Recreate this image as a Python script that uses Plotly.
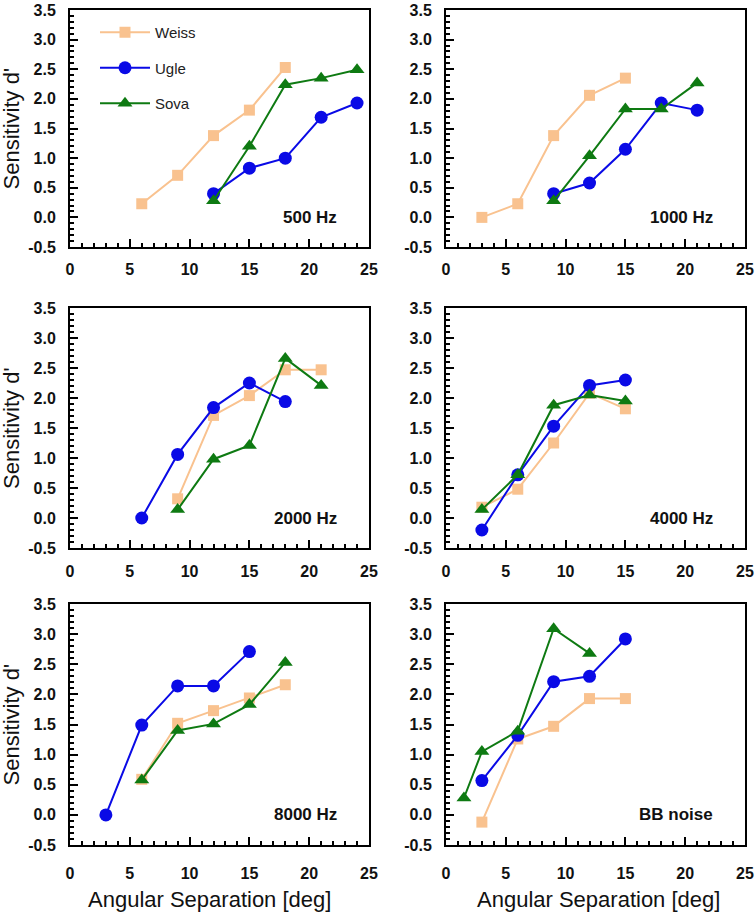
import plotly.graph_objects as go

W, H = 755, 913

# ---------------- data ----------------
panel_labels = ["500 Hz", "1000 Hz", "2000 Hz", "4000 Hz", "8000 Hz", "BB noise"]
series_names = ["Weiss", "Ugle", "Sova"]

weiss_x = [[6, 9, 12, 15, 18], [3, 6, 9, 12, 15], [9, 12, 15, 18, 21],
           [3, 6, 9, 12, 15], [6, 9, 12, 15, 18], [3, 6, 9, 12, 15]]
weiss_y = [[0.23, 0.71, 1.38, 1.81, 2.53], [0.00, 0.23, 1.38, 2.06, 2.35],
           [0.32, 1.71, 2.04, 2.47, 2.47], [0.18, 0.48, 1.25, 2.08, 1.82],
           [0.59, 1.52, 1.73, 1.94, 2.16], [-0.12, 1.26, 1.47, 1.93, 1.93]]

ugle_x = [[12, 15, 18, 21, 24], [9, 12, 15, 18, 21], [6, 9, 12, 15, 18],
          [3, 6, 9, 12, 15], [3, 6, 9, 12, 15], [3, 6, 9, 12, 15]]
ugle_y = [[0.40, 0.83, 1.00, 1.69, 1.93], [0.40, 0.58, 1.15, 1.93, 1.81],
          [0.00, 1.06, 1.84, 2.25, 1.94], [-0.20, 0.72, 1.53, 2.21, 2.30],
          [0.00, 1.49, 2.14, 2.14, 2.71], [0.57, 1.32, 2.21, 2.30, 2.92]]

sova_x = [[12, 15, 18, 21, 24], [9, 12, 15, 18, 21], [9, 12, 15, 18, 21],
          [3, 6, 9, 12, 15], [6, 9, 12, 15, 18], [1.5, 3, 6, 9, 12]]
sova_y = [[0.28, 1.20, 2.24, 2.35, 2.49], [0.28, 1.04, 1.83, 1.83, 2.27],
          [0.14, 0.98, 1.21, 2.66, 2.21], [0.14, 0.72, 1.88, 2.05, 1.95],
          [0.58, 1.40, 1.51, 1.83, 2.53], [0.28, 1.05, 1.39, 3.09, 2.68]]

x_tick_vals = [0, 5, 10, 15, 20, 25]
y_tick_vals = [-0.5, 0.0, 0.5, 1.0, 1.5, 2.0, 2.5, 3.0, 3.5]
y_tick_text = ["-0.5", "0.0", "0.5", "1.0", "1.5", "2.0", "2.5", "3.0", "3.5"]
x_title = "Angular Separation [deg]"
y_title = "Sensitivity d'"

# ---------------- style ----------------
colors = {"Weiss": "#F9C28F", "Ugle": "#0A0AE6", "Sova": "#0E7A12"}
symbols = {"Weiss": "square", "Ugle": "circle", "Sova": "triangle-up"}
msize = {"Weiss": 11, "Ugle": 13, "Sova": 13}
FONT = "Liberation Sans, Arial, sans-serif"

col_px = [(70, 369), (446, 745)]
row_px = [(10, 247), (308, 548), (604, 845)]
xlab_standoff = [7, 8, 13]

fig = go.Figure()
layout = dict(
    width=W, height=H, margin=dict(l=0, r=0, t=0, b=0, autoexpand=False),
    paper_bgcolor="white", plot_bgcolor="white",
    font=dict(family=FONT, color="black"),
    showlegend=True,
    legend=dict(x=95 / W, xanchor="left", y=1 - 16 / H, yanchor="top",
                font=dict(size=15, family=FONT, color="#222"),
                itemwidth=50, tracegroupgap=13, bgcolor="rgba(0,0,0,0)"),
)

annotations = []
all_data = {"Weiss": (weiss_x, weiss_y), "Ugle": (ugle_x, ugle_y), "Sova": (sova_x, sova_y)}

for p in range(6):
    r, c = divmod(p, 2)
    idx = "" if p == 0 else str(p + 1)
    xa, ya = "x" + idx, "y" + idx
    x0, x1 = col_px[c]
    y0, y1 = row_px[r]
    layout["xaxis" + idx] = dict(
        domain=[x0 / W, x1 / W], anchor=ya, range=[0, 25], automargin=False,
        tickmode="array", tickvals=x_tick_vals, ticklabeloverflow="allow",
        ticks="inside", ticklen=8, tickwidth=2, tickcolor="black",
        minor=dict(ticks="inside", ticklen=4, tickwidth=1.5, tickcolor="black", dtick=1, tick0=0),
        showline=True, linewidth=2, linecolor="black", mirror=True,
        showgrid=False, zeroline=False,
        tickfont=dict(size=16, family=FONT, weight="bold", color="#111"),
        ticklabelstandoff=xlab_standoff[r],
    )
    layout["yaxis" + idx] = dict(
        domain=[1 - y1 / H, 1 - y0 / H], anchor=xa, range=[-0.5, 3.5], automargin=False,
        tickmode="array", tickvals=y_tick_vals, ticktext=y_tick_text, ticklabeloverflow="allow",
        ticks="inside", ticklen=8, tickwidth=2, tickcolor="black",
        minor=dict(ticks="inside", ticklen=4, tickwidth=1.5, tickcolor="black", dtick=0.1, tick0=0),
        showline=True, linewidth=2, linecolor="black", mirror=True,
        showgrid=False, zeroline=False,
        tickfont=dict(size=16, family=FONT, weight="bold", color="#111"),
        ticklabelstandoff=9,
    )
    for name in series_names:
        xs, ys = all_data[name]
        fig.add_trace(go.Scatter(
            x=xs[p], y=ys[p], mode="lines+markers", name=name,
            legendgroup=name, showlegend=(p == 0), cliponaxis=False,
            line=dict(color=colors[name], width=2),
            marker=dict(symbol=symbols[name], size=msize[name], color=colors[name]),
            xaxis=xa, yaxis=ya,
        ))
    annotations.append(dict(
        text=panel_labels[p], xref=xa, yref=ya, x=22.5, y=0.0,
        xanchor="right", yanchor="middle", showarrow=False,
        font=dict(size=17, family=FONT, weight="bold", color="#111"),
    ))
    if c == 0:
        annotations.append(dict(
            text=y_title, xref="paper", yref="paper", x=11 / W,
            y=1 - (y0 + y1) / 2 / H, xanchor="center", yanchor="middle",
            textangle=-90, showarrow=False,
            font=dict(size=22, family=FONT, color="#111"),
        ))
    if r == 2:
        cx = 210 if c == 0 else 598
        annotations.append(dict(
            text=x_title, xref="paper", yref="paper", x=cx / W,
            y=1 - 899 / H, xanchor="center", yanchor="middle", showarrow=False,
            font=dict(size=22, family=FONT, color="#111"),
        ))

layout["annotations"] = annotations
fig.update_layout(**layout)
fig.write_html(
    "out.html",
    config={"displayModeBar": False},
    post_script="document.body.style.margin='0';document.body.style.overflow='hidden';",
)
